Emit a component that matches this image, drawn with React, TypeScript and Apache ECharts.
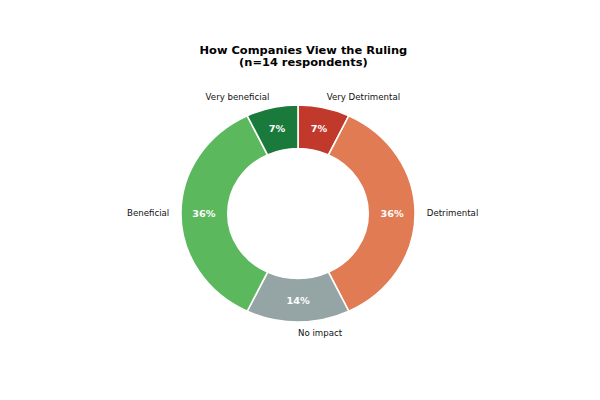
import React, { useEffect, useRef } from "react";
import * as echarts from "echarts";

const categories = ["Very Detrimental", "Detrimental", "No impact", "Beneficial", "Very beneficial"];
const counts = [1, 5, 2, 5, 1];
const colors = ["#c0392b", "#e07b53", "#95a5a6", "#5cb85c", "#1a7a3c"];
const titleText = "How Companies View the Ruling\n(n=14 respondents)";

const SX = 1.0791;

export default function App() {
  const ref = useRef<HTMLDivElement>(null);
  useEffect(() => {
    if (!ref.current) return;
    const chart = echarts.init(ref.current, null, { renderer: "svg" });
    const data = categories.map((c, i) => ({ name: c, value: counts[i], itemStyle: { color: colors[i] } }));
    const cx = 298 / SX;
    const cy = 213.5;
    const rOut = 108.5;
    const rIn = 65.1;
    chart.setOption({
      animation: false,
      backgroundColor: "#ffffff",
      title: {
        text: titleText,
        left: cx,
        textAlign: "center",
        top: 40,
        textStyle: { fontFamily: "DejaVu Sans", fontSize: 10.6, fontWeight: "bold", color: "#000", lineHeight: 11.5 },
      },
      series: [
        {
          type: "pie",
          center: [cx, cy],
          radius: [rIn, rOut],
          startAngle: 90,
          clockwise: true,
          avoidLabelOverlap: false,
          silent: true,
          itemStyle: { borderColor: "#ffffff", borderWidth: 1.5 },
          label: {
            show: true,
            position: "outside",
            formatter: "{b}",
            fontFamily: "DejaVu Sans",
            fontSize: 8,
            color: "#111",
            distanceToLabelLine: 0,
          },
          labelLine: { show: false, length: rOut * 0.1, length2: 0 },
          data,
        },
        {
          type: "pie",
          center: [cx, cy],
          radius: [rIn - 5, rOut],
          startAngle: 90,
          clockwise: true,
          silent: true,
          avoidLabelOverlap: false,
          itemStyle: { color: "rgba(0,0,0,0)", borderWidth: 0 },
          label: {
            show: true,
            position: "inside",
            formatter: (p: any) => Math.round(p.percent) + "%",
            fontFamily: "DejaVu Sans",
            fontSize: 9,
            fontWeight: "bold",
            color: "#ffffff",
          },
          labelLine: { show: false },
          data: categories.map((c, i) => ({ name: c, value: counts[i] })),
        },
      ],
    });
    return () => chart.dispose();
  }, []);
  return (
    <div
      style={{
        position: "fixed",
        left: 0,
        top: 0,
        width: 600,
        height: 400,
        background: "#fff",
        overflow: "hidden",
      }}
    >
      <div
        ref={ref}
        style={{ width: 600 / SX, height: 400, transform: `scaleX(${SX})`, transformOrigin: "0 0" }}
      />
    </div>
  );
}
